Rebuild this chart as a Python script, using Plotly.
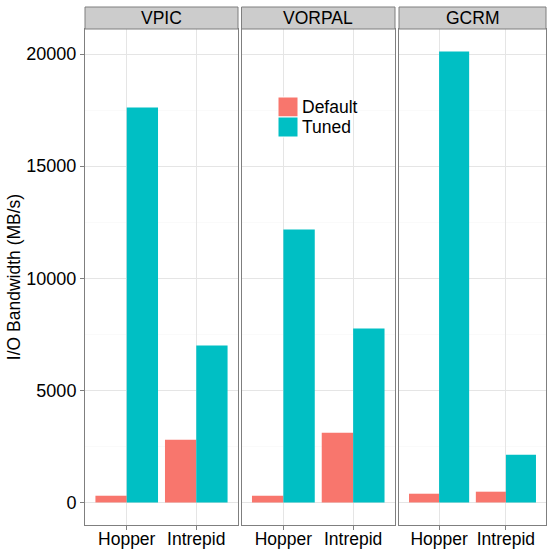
import plotly.graph_objects as go

# ---- data ----
apps = ["VPIC", "VORPAL", "GCRM"]
machines = ["Hopper", "Intrepid"]
default_vpic = [300, 2800]
tuned_vpic = [17620, 7000]
default_vorpal = [300, 3110]
tuned_vorpal = [12170, 7760]
default_gcrm = [390, 480]
tuned_gcrm = [20110, 2130]
series_names = ["Default", "Tuned"]
y_ticks = [0, 5000, 10000, 15000, 20000]
y_title = "I/O Bandwidth (MB/s)"

defaults = [default_vpic, default_vorpal, default_gcrm]
tuneds = [tuned_vpic, tuned_vorpal, tuned_gcrm]

# ---- styling ----
W, H = 547, 549
FS = 17.5
col_default = "#F8766D"
col_tuned = "#00BFC4"
grey50 = "#7F7F7F"
font_family = "Liberation Sans, Arial, Helvetica, sans-serif"
panels_px = [(85, 238), (241.5, 395), (399, 546)]
panel_top, panel_bottom, strip_top = 29, 525, 7

def fx(px):
    return px / W

def fy(py):
    return 1 - py / H

ymax = max(max(v) for v in tuneds + defaults)
yr = [-0.05 * ymax, 1.05 * ymax]

fig = go.Figure()
for i, app in enumerate(apps):
    ax = "" if i == 0 else str(i + 1)
    fig.add_trace(go.Bar(x=machines, y=defaults[i], name=series_names[0],
                         marker=dict(color=col_default, line=dict(width=0)),
                         xaxis="x" + ax, yaxis="y" + ax, showlegend=False,
                         offsetgroup="d"))
    fig.add_trace(go.Bar(x=machines, y=tuneds[i], name=series_names[1],
                         marker=dict(color=col_tuned, line=dict(width=0)),
                         xaxis="x" + ax, yaxis="y" + ax, showlegend=False,
                         offsetgroup="t"))

layout = dict(
    width=W, height=H,
    margin=dict(l=0, r=0, t=0, b=0),
    paper_bgcolor="white", plot_bgcolor="white",
    barmode="group", bargap=0.1, bargroupgap=0,
    font=dict(family=font_family, size=FS, color="black"),
    showlegend=False,
)
shapes = []
annotations = []
for i, app in enumerate(apps):
    ax = "" if i == 0 else str(i + 1)
    x0, x1 = panels_px[i]
    layout["xaxis" + ax] = dict(
        domain=[fx(x0), fx(x1)], anchor="y" + ax, type="category",
        range=[-0.6, 1.6], showgrid=True, gridcolor="#E5E5E5", gridwidth=1,
        showline=True, mirror=True, linecolor=grey50, linewidth=1,
        ticks="outside", ticklen=4, tickcolor=grey50, tickwidth=1,
        tickfont=dict(size=FS, color="black"), zeroline=False,
        ticklabelstandoff=-6,
        automargin=False, fixedrange=True,
    )
    ydict = dict(
        domain=[fy(panel_bottom), fy(panel_top)], anchor="x" + ax,
        range=yr, tickvals=y_ticks, tickformat="d", showgrid=True, gridcolor="#E5E5E5",
        gridwidth=1, zeroline=False, showline=True, mirror=True,
        linecolor=grey50, linewidth=1, automargin=False, fixedrange=True,
        minor=dict(showgrid=True, gridcolor="#FAFAFA", tickvals=[2500, 7500, 12500, 17500], ticks=""),
    )
    if i == 0:
        ydict.update(ticks="outside", ticklen=4, tickcolor=grey50, tickwidth=1,
                     tickfont=dict(size=18, color="black"), showticklabels=True,
                     title=dict(text=y_title, font=dict(size=FS, color="black"), standoff=1))
    else:
        ydict.update(showticklabels=False, ticks="", matches="y")
    layout["yaxis" + ax] = ydict
    # strip
    shapes.append(dict(type="rect", xref="paper", yref="paper",
                       x0=fx(x0), x1=fx(x1), y0=fy(panel_top), y1=fy(strip_top),
                       fillcolor="#CCCCCC", line=dict(color=grey50, width=1), layer="above"))
    annotations.append(dict(text=app, xref="paper", yref="paper",
                            x=fx((x0 + x1) / 2), y=fy((panel_top + strip_top) / 2),
                            xanchor="center", yanchor="middle", showarrow=False,
                            font=dict(size=FS, color="black")))

# legend (drawn manually inside VORPAL panel)
leg_x0, leg_x1 = 278, 298
for k, (nm, col) in enumerate(zip(series_names, [col_default, col_tuned])):
    y0 = 97 + 20 * k
    shapes.append(dict(type="rect", xref="paper", yref="paper",
                       x0=fx(leg_x0), x1=fx(leg_x1), y0=fy(y0 + 20), y1=fy(y0),
                       fillcolor=col, line=dict(color="white", width=1)))
    annotations.append(dict(text=nm, xref="paper", yref="paper",
                            x=fx(300), y=fy(y0 + 10), xanchor="left", yanchor="middle",
                            showarrow=False, font=dict(size=FS, color="black")))

layout["shapes"] = shapes
layout["annotations"] = annotations
fig.update_layout(**layout)
fig.write_html("out.html", config={"displayModeBar": False, "staticPlot": True},
               post_script="document.body.style.margin='0';document.body.style.overflow='hidden';")
